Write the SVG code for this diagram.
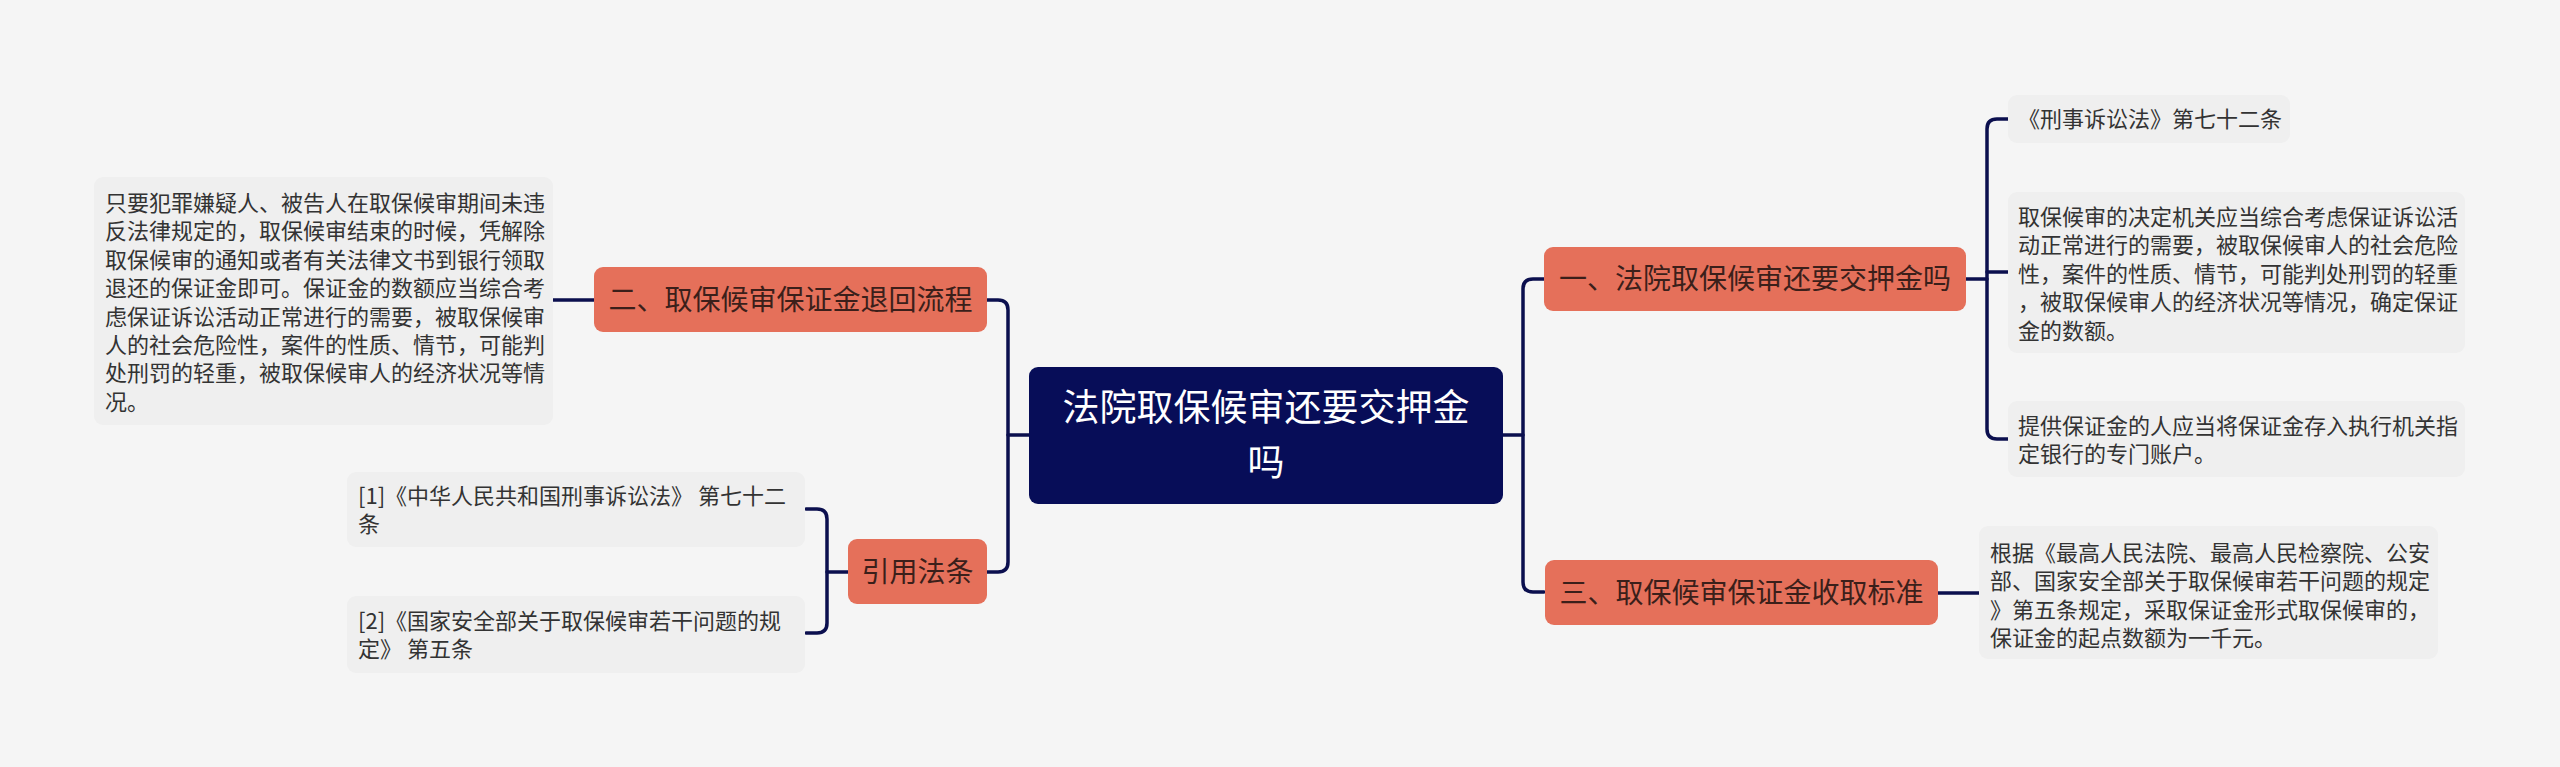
<svg xmlns="http://www.w3.org/2000/svg" width="2560" height="767" viewBox="0 0 2560 767">
<style>
.bg{fill:#f5f5f5}
.leaf{fill:#efefef}
.sub{fill:#e5705a}
.root{fill:#070d58}
.lt{font-family:"Noto Sans CJK SC","Noto Sans",sans-serif;font-size:22px;fill:#333333}
.st{font-family:"Noto Sans CJK SC","Noto Sans",sans-serif;font-size:28px;fill:#3b1f1a;text-anchor:middle}
.rt{font-family:"Noto Sans CJK SC","Noto Sans",sans-serif;font-size:37px;fill:#ffffff;text-anchor:middle}
.ln{fill:none;stroke:#0b0f4e;stroke-width:3.5;stroke-linecap:round}
</style>
<rect class="bg" x="0" y="0" width="2560" height="767"/>
<g id="connectors">
<path class="ln" d="M1029 435 H1008"/>
<path class="ln" d="M987 300 H998 Q1008 300 1008 310 V562 Q1008 572 998 572 H987"/>
<path class="ln" d="M1503 435 H1523"/>
<path class="ln" d="M1544 279 H1533 Q1523 279 1523 289 V582 Q1523 592 1533 592 H1544"/>
<path class="ln" d="M553 300 H594"/>
<path class="ln" d="M848 572 H827"/>
<path class="ln" d="M806 509 H817 Q827 509 827 519 V623 Q827 633 817 633 H806"/>
<path class="ln" d="M1966 279 H1987"/>
<path class="ln" d="M2008 119 H1997 Q1987 119 1987 129 V429 Q1987 439 1997 439 H2008"/>
<path class="ln" d="M1987 272 H2008"/>
<path class="ln" d="M1938 593 H1979"/>
</g>
<g id="root">
<rect class="root" x="1029" y="367" width="474" height="137" rx="9"/>
<text class="rt" x="1266" y="421">法院取保候审还要交押金</text>
<text class="rt" x="1266" y="476">吗</text>
</g>
<g id="n2">
<rect class="sub" x="594" y="267" width="393" height="65" rx="9"/>
<text class="st" x="790.5" y="310">二、取保候审保证金退回流程</text>
</g>
<g id="n2c">
<rect class="leaf" x="94" y="177" width="459" height="248" rx="9"/>
<text class="lt" x="105" y="211">只要犯罪嫌疑人、被告人在取保候审期间未违</text>
<text class="lt" x="105" y="239.4">反法律规定的，取保候审结束的时候，凭解除</text>
<text class="lt" x="105" y="267.8">取保候审的通知或者有关法律文书到银行领取</text>
<text class="lt" x="105" y="296.2">退还的保证金即可。保证金的数额应当综合考</text>
<text class="lt" x="105" y="324.6">虑保证诉讼活动正常进行的需要，被取保候审</text>
<text class="lt" x="105" y="353">人的社会危险性，案件的性质、情节，可能判</text>
<text class="lt" x="105" y="381.4">处刑罚的轻重，被取保候审人的经济状况等情</text>
<text class="lt" x="105" y="409.8">况。</text>
</g>
<g id="n4">
<rect class="sub" x="848" y="539" width="139" height="65" rx="9"/>
<text class="st" x="917.5" y="582">引用法条</text>
</g>
<g id="ref1">
<rect class="leaf" x="347" y="472" width="458" height="75" rx="9"/>
<text class="lt" x="358" y="504">[1]《中华人民共和国刑事诉讼法》 第七十二</text>
<text class="lt" x="358" y="532.4">条</text>
</g>
<g id="ref2">
<rect class="leaf" x="347" y="596" width="458" height="77" rx="9"/>
<text class="lt" x="358" y="629">[2]《国家安全部关于取保候审若干问题的规</text>
<text class="lt" x="358" y="657.4">定》 第五条</text>
</g>
<g id="n1">
<rect class="sub" x="1544" y="247" width="422" height="64" rx="9"/>
<text class="st" x="1755" y="289">一、法院取保候审还要交押金吗</text>
</g>
<g id="n1a">
<rect class="leaf" x="2008" y="95" width="282" height="48" rx="9"/>
<text class="lt" x="2018" y="127">《刑事诉讼法》第七十二条</text>
</g>
<g id="n1b">
<rect class="leaf" x="2008" y="192" width="457" height="161" rx="9"/>
<text class="lt" x="2018" y="225">取保候审的决定机关应当综合考虑保证诉讼活</text>
<text class="lt" x="2018" y="253.4">动正常进行的需要，被取保候审人的社会危险</text>
<text class="lt" x="2018" y="281.8">性，案件的性质、情节，可能判处刑罚的轻重</text>
<text class="lt" x="2018" y="310.2">，被取保候审人的经济状况等情况，确定保证</text>
<text class="lt" x="2018" y="338.6">金的数额。</text>
</g>
<g id="n1c">
<rect class="leaf" x="2008" y="401" width="457" height="76" rx="9"/>
<text class="lt" x="2018" y="434">提供保证金的人应当将保证金存入执行机关指</text>
<text class="lt" x="2018" y="462.4">定银行的专门账户。</text>
</g>
<g id="n3">
<rect class="sub" x="1545" y="560" width="393" height="65" rx="9"/>
<text class="st" x="1741.5" y="603">三、取保候审保证金收取标准</text>
</g>
<g id="n3c">
<rect class="leaf" x="1979" y="526" width="459" height="133" rx="9"/>
<text class="lt" x="1990" y="561">根据《最高人民法院、最高人民检察院、公安</text>
<text class="lt" x="1990" y="589.4">部、国家安全部关于取保候审若干问题的规定</text>
<text class="lt" x="1990" y="617.8">》第五条规定，采取保证金形式取保候审的，</text>
<text class="lt" x="1990" y="646.2">保证金的起点数额为一千元。</text>
</g>
</svg>
